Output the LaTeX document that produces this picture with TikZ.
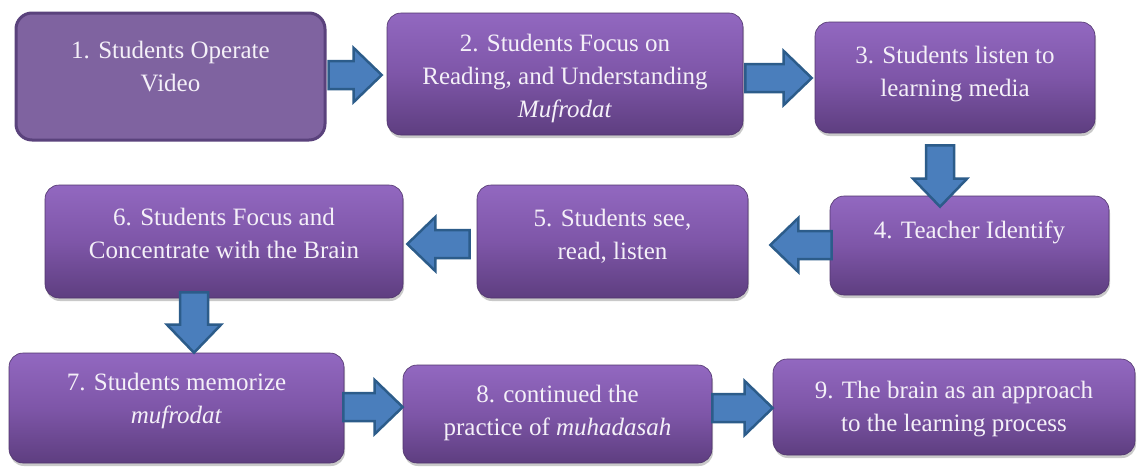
\documentclass[tikz,border=0pt]{standalone}
\usepackage{fontspec}
\setmainfont{LiberationSerif}[Extension=.ttf, UprightFont=*-Regular, ItalicFont=*-Italic, BoldFont=*-Bold]
\usetikzlibrary{calc,shadows}
\definecolor{boxtop}{RGB}{146,104,192}
\definecolor{boxmid}{RGB}{126,86,168}
\definecolor{boxbot}{RGB}{94,62,128}
\definecolor{boxflat}{RGB}{127,99,160}
\definecolor{boxedge}{RGB}{90,66,124}
\definecolor{arrowfill}{RGB}{74,126,188}
\definecolor{arrowedge}{RGB}{44,92,138}
\definecolor{txtcol}{RGB}{244,240,248}
\tikzset{
  stepbox/.style={rounded corners=14pt, top color=boxtop, bottom color=boxbot, middle color=boxmid,
    draw=boxbot!85!black, line width=0.6pt,
    drop shadow={shadow xshift=1pt, shadow yshift=-3pt, opacity=0.35, fill=black!60}, inner sep=0pt},
  flatbox/.style={rounded corners=16pt, fill=boxflat, draw=boxedge, line width=3pt, inner sep=0pt},
  steptext/.style={text=txtcol, align=center, font=\fontsize{25}{33}\selectfont, inner sep=0pt},
  blockarrow/.style={fill=arrowfill, draw=arrowedge, line width=2.5pt, line join=miter},
}
\newcommand{\blockarr}[4]{%
  \draw[blockarrow] ($(#1)+({-14*(#4)},{14*(#3)})$)
    -- ($(#2)+({-28*(#3)-14*(#4)},{-28*(#4)+14*(#3)})$)
    -- ($(#2)+({-28*(#3)-27*(#4)},{-28*(#4)+27*(#3)})$)
    -- (#2)
    -- ($(#2)+({-28*(#3)+27*(#4)},{-28*(#4)-27*(#3)})$)
    -- ($(#2)+({-28*(#3)+14*(#4)},{-28*(#4)-14*(#3)})$)
    -- ($(#1)+({14*(#4)},{-14*(#3)})$) -- cycle;}
\begin{document}
\begin{tikzpicture}[x=1pt,y=-1pt]
\useasboundingbox[fill=white] (0,0) rectangle (1142,469);
% boxes
\node[flatbox, minimum width=309pt, minimum height=127pt] (b1) at (170.5,76.5) {};
\node[stepbox, minimum width=356pt, minimum height=122pt] (b2) at (565,74) {};
\node[stepbox, minimum width=280pt, minimum height=111pt] (b3) at (955,77.5) {};
\node[stepbox, minimum width=279pt, minimum height=99pt] (b4) at (969.5,245.5) {};
\node[stepbox, minimum width=271pt, minimum height=113pt] (b5) at (612.5,241.5) {};
\node[stepbox, minimum width=358pt, minimum height=113pt] (b6) at (224,241.5) {};
\node[stepbox, minimum width=335pt, minimum height=110pt] (b7) at (176.5,408) {};
\node[stepbox, minimum width=309pt, minimum height=98pt] (b8) at (557.5,414) {};
\node[stepbox, minimum width=362pt, minimum height=96pt] (b9) at (954,407) {};
% texts
\node[steptext] (t1) at ($(b1.center)+(0,-10)$) {1. Students Operate\\Video};
\node[steptext] (t2) at ($(b2.center)+(0,4.5)$) {2. Students Focus on\\Reading, and Understanding\\\textit{Mufrodat}};
\node[steptext] (t3) at ($(b3.center)+(0,-3)$) {3. Students listen to\\learning media};
\node[steptext] (t4) at ($(b4.center)+(0,-13.5)$) {4. Teacher Identify};
\node[steptext] (t5) at ($(b5.center)+(0,-5)$) {5. Students see,\\read, listen};
\node[steptext] (t6) at ($(b6.center)+(0,-8)$) {6. Students Focus and\\Concentrate with the Brain};
\node[steptext] (t7) at ($(b7.center)+(0,-7.5)$) {7. Students memorize\\\textit{mufrodat}};
\node[steptext] (t8) at ($(b8.center)+(0,-1.5)$) {8. continued the\\practice of \textit{muhadasah}};
\node[steptext] (t9) at ($(b9.center)+(0,2)$) {9. The brain as an approach\\to the learning process};
% arrow end points
\coordinate (s12) at ($(b1.east)+(2,-1.5)$);   \coordinate (e12) at ($(b2.west)+(-5,1)$);
\coordinate (s23) at ($(b2.east)+(2,4)$);      \coordinate (e23) at ($(b3.west)+(-3,0.5)$);
\coordinate (s34) at ($(b3.south)+(-15,12)$);  \coordinate (e34) at ($(b4.north)+(-29.5,11)$);
\coordinate (s45) at ($(b4.west)+(2,-0.5)$);   \coordinate (e45) at ($(b5.east)+(22,3.5)$);
\coordinate (s56) at ($(b5.west)+(-7,2.5)$);   \coordinate (e56) at ($(b6.east)+(4,2.5)$);
\coordinate (s67) at ($(b6.south)+(-30,-6)$);  \coordinate (e67) at ($(b7.north)+(17.5,0)$);
\coordinate (s78) at ($(b7.east)+(-1,-1)$);    \coordinate (e78) at ($(b8.west)+(0,-7)$);
\coordinate (s89) at ($(b8.east)+(0,-6)$);     \coordinate (e89) at ($(b9.west)+(0,1)$);
% block arrows
\blockarr{s12}{e12}{1}{0}
\blockarr{s23}{e23}{1}{0}
\blockarr{s34}{e34}{0}{1}
\blockarr{s45}{e45}{-1}{0}
\blockarr{s56}{e56}{-1}{0}
\blockarr{s67}{e67}{0}{1}
\blockarr{s78}{e78}{1}{0}
\blockarr{s89}{e89}{1}{0}
\end{tikzpicture}
\end{document}
